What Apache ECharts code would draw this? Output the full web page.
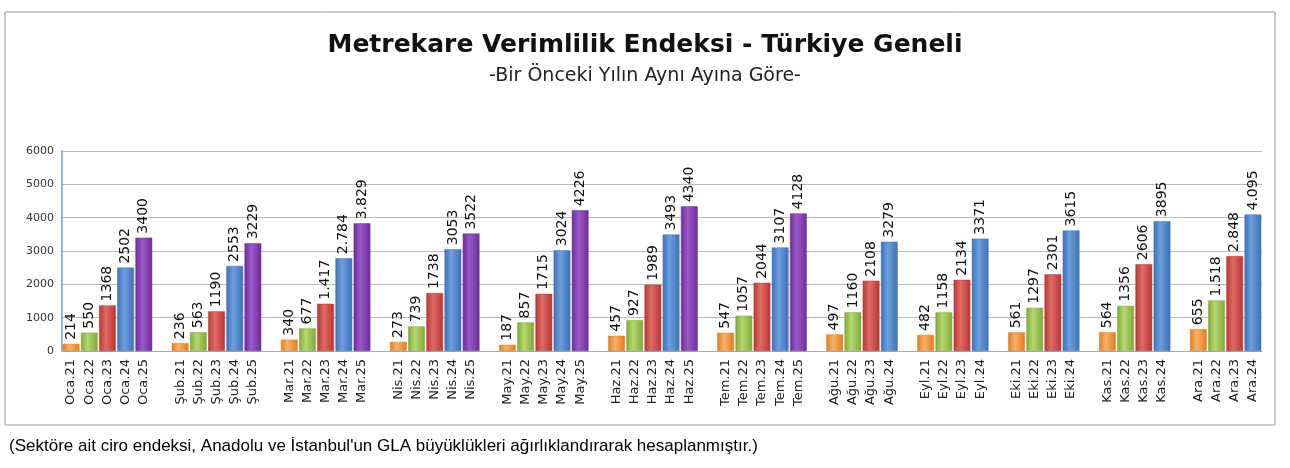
<!DOCTYPE html><html><head><meta charset="utf-8">
<script src="https://cdn.jsdelivr.net/npm/echarts@6/dist/echarts.min.js"></script>
<style>html,body{margin:0;background:#fff}#c{width:1290px;height:468px}</style></head><body><div id="c"></div>
<script>
const months=['Oca','Şub','Mar','Nis','May','Haz','Tem','Ağu','Eyl','Eki','Kas','Ara'];
const years=['21','22','23','24','25'];
const values=[
 [214,550,1368,2502,3400],[236,563,1190,2553,3229],[340,677,1417,2784,3829],
 [273,739,1738,3053,3522],[187,857,1715,3024,4226],[457,927,1989,3493,4340],
 [547,1057,2044,3107,4128],[497,1160,2108,3279],[482,1158,2134,3371],
 [561,1297,2301,3615],[564,1356,2606,3895],[655,1518,2848,4095]];
const valueLabels=[
 ['214','550','1368','2502','3400'],['236','563','1190','2553','3229'],['340','677','1.417','2.784','3.829'],
 ['273','739','1738','3053','3522'],['187','857','1715','3024','4226'],['457','927','1989','3493','4340'],
 ['547','1057','2044','3107','4128'],['497','1160','2108','3279'],['482','1158','2134','3371'],
 ['561','1297','2301','3615'],['564','1356','2606','3895'],['655','1.518','2.848','4.095']];
const colors=[['#f8b26a','#e07c1e'],['#b5d96e','#7ea83a'],['#e06a66','#b83632'],['#6c9fdb','#3d70b8'],['#9c58c8','#6a2d98']];
const cats=[],data=[];
months.forEach((m,i)=>{
  if(i>0){cats.push('');data.push('-');}
  values[i].forEach((v,j)=>{
    cats.push(m+'.'+years[j]);
    data.push({value:v,lbl:valueLabels[i][j],itemStyle:{color:new echarts.graphic.LinearGradient(0,0,1,0,[{offset:0,color:colors[j][1]},{offset:0.4,color:colors[j][0]},{offset:1,color:colors[j][1]}]),borderColor:colors[j][1],borderWidth:0.5}});
  });
});
const ch=echarts.init(document.getElementById('c'));
ch.setOption({
 animation:false,
 graphic:[{type:'rect',shape:{x:5,y:12,width:1270,height:413},style:{fill:'none',stroke:'#999',lineWidth:1}}],
 title:[{text:'Metrekare Verimlilik Endeksi - Türkiye Geneli',left:'center',top:28,textStyle:{fontFamily:'DejaVu Sans',fontSize:25,fontWeight:'bold',color:'#111'}},
  {text:'-Bir Önceki Yılın Aynı Ayına Göre-',left:'center',top:62,textStyle:{fontFamily:'DejaVu Sans',fontSize:19,fontWeight:'normal',color:'#222'}},
  {text:"(Sektöre ait ciro endeksi, Anadolu ve İstanbul'un GLA büyüklükleri ağırlıklandırarak hesaplanmıştır.)",left:4,top:433,textStyle:{fontFamily:'Liberation Sans',fontSize:17,fontWeight:'normal',color:'#000'}}],
 grid:{left:62,right:28,top:151,bottom:117},
 xAxis:{type:'category',data:cats,axisTick:{show:false},axisLine:{lineStyle:{color:'#aaa'}},
  axisLabel:{rotate:90,interval:0,fontSize:13,color:'#222',fontFamily:'DejaVu Sans'}},
 yAxis:{type:'value',min:0,max:6000,interval:1000,axisLine:{show:true,lineStyle:{color:'#6a9fd8',width:1.5}},
  splitLine:{lineStyle:{color:'#bbb'}},axisLabel:{fontSize:11,color:'#333',fontFamily:'DejaVu Sans',formatter:v=>String(v)}},
 series:[{type:'bar',data:data,barCategoryGap:'8%',
  label:{show:true,position:'top',rotate:90,align:'left',verticalAlign:'middle',distance:4,fontSize:14,color:'#111',fontFamily:'DejaVu Sans',
   formatter:p=>p.data.lbl}}]
});
</script></body></html>
